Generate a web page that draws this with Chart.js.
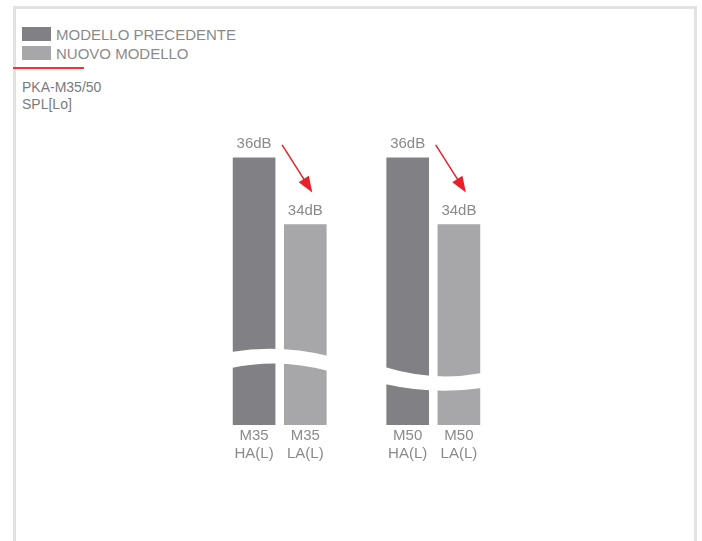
<!DOCTYPE html>
<html>
<head>
<meta charset="utf-8">
<script src="https://cdn.jsdelivr.net/npm/chart.js@4"></script>
<style>
  body { margin: 0; width: 702px; height: 541px; overflow: hidden; background: #fff;
         font-family: "Liberation Sans", Arial, sans-serif; }
  .frame { position: absolute; left: 13px; top: 6px; width: 678px; height: 600px;
           border: 3px solid #e2e2e2; border-bottom: none; }
  .legend { position: absolute; left: 22px; top: 25px; }
  .legend div { height: 19px; line-height: 19px; font-size: 15px; color: #8a8a8d; white-space: nowrap; }
  .legend span { display: inline-block; width: 29px; height: 14px; margin-right: 5px; vertical-align: -1px; }
  .redline { position: absolute; left: 13px; top: 67px; width: 71px; height: 2px; background: #ff3030; }
  .model { position: absolute; left: 22px; top: 79px; font-size: 14px; line-height: 17px; color: #7a7a7d; }
  canvas { position: absolute; left: 0; top: 0; }
</style>
</head>
<body>
<div class="frame"></div>
<div class="legend" id="legend"></div>
<div class="redline"></div>
<div class="model">PKA-M35/50<br>SPL[Lo]</div>
<canvas id="chart" width="702" height="541"></canvas>
<script>
// dati
const categories = [['M35', 'HA(L)'], ['M35', 'LA(L)'], '', ['M50', 'HA(L)'], ['M50', 'LA(L)']];
const seriesNames = ['MODELLO PRECEDENTE', 'NUOVO MODELLO'];
const previousModel = [36, null, null, 36, null];
const newModel = [null, 34, null, null, 34];
const unit = 'dB';

const darkGray = '#818185';
const lightGray = '#a7a7aa';
const textGray = '#8a8a8d';
const red = '#e8202a';

// legenda html
const legendEl = document.getElementById('legend');
[darkGray, lightGray].forEach((c, i) => {
  const row = document.createElement('div');
  row.innerHTML = '<span style="background:' + c + '"></span>' + seriesNames[i];
  legendEl.appendChild(row);
});

// etichette dB sopra le barre + frecce rosse
const labelsPlugin = {
  id: 'dbLabels',
  afterDatasetsDraw(chart) {
    const ctx = chart.ctx;
    ctx.save();
    ctx.font = '15px "Liberation Sans", Arial, sans-serif';
    ctx.fillStyle = textGray;
    ctx.textAlign = 'center';
    ctx.textBaseline = 'middle';
    chart.data.datasets.forEach((ds, di) => {
      chart.getDatasetMeta(di).data.forEach((bar, i) => {
        if (ds.data[i] == null) return;
        ctx.fillText(ds.data[i] + unit, bar.x, bar.y - 13.5);
      });
    });
    // frecce da HA a LA
    const prev = chart.getDatasetMeta(0).data;
    const next = chart.getDatasetMeta(1).data;
    [[0, 1], [3, 4]].forEach(([a, b]) => {
      const from = prev[a], to = next[b];
      const x0 = from.x + from.width / 2 + 7, y0 = from.y - 13;
      const x1 = to.x + 7, y1 = to.y - 32;
      const ang = Math.atan2(y1 - y0, x1 - x0);
      ctx.strokeStyle = red;
      ctx.fillStyle = red;
      ctx.lineWidth = 1.5;
      ctx.beginPath();
      ctx.moveTo(x0, y0);
      ctx.lineTo(x1 - 12 * Math.cos(ang), y1 - 12 * Math.sin(ang));
      ctx.stroke();
      ctx.beginPath();
      ctx.moveTo(x1, y1);
      ctx.lineTo(x1 - 16 * Math.cos(ang) + 6 * Math.sin(ang), y1 - 16 * Math.sin(ang) - 6 * Math.cos(ang));
      ctx.lineTo(x1 - 16 * Math.cos(ang) - 6 * Math.sin(ang), y1 - 16 * Math.sin(ang) + 6 * Math.cos(ang));
      ctx.closePath();
      ctx.fill();
    });
    ctx.restore();
  }
};

// interruzione dell'asse (bande bianche curve)
const breakPlugin = {
  id: 'axisBreak',
  afterDatasetsDraw(chart) {
    const ctx = chart.ctx;
    const b = chart.chartArea.bottom;
    const prev = chart.getDatasetMeta(0).data;
    const next = chart.getDatasetMeta(1).data;
    const groups = [
      { l: prev[0], r: next[1], top: [-73, -81, -69], bot: [-57, -67.5, -54] },
      { l: prev[3], r: next[4], top: [-58, -43, -52], bot: [-41, -30, -37] }
    ];
    ctx.save();
    ctx.fillStyle = '#fff';
    groups.forEach(g => {
      const x0 = g.l.x - g.l.width / 2 - 2, x1 = g.r.x + g.r.width / 2 + 2;
      const xm = (x0 + x1) / 2;
      ctx.beginPath();
      ctx.moveTo(x0, b + g.top[0]);
      ctx.quadraticCurveTo(xm, b + g.top[1], x1, b + g.top[2]);
      ctx.lineTo(x1, b + g.bot[2]);
      ctx.quadraticCurveTo(xm, b + g.bot[1], x0, b + g.bot[0]);
      ctx.closePath();
      ctx.fill();
    });
    ctx.restore();
  }
};

const chart = new Chart(document.getElementById('chart').getContext('2d'), {
  type: 'bar',
  data: {
    labels: categories,
    datasets: [
      { label: seriesNames[0], data: previousModel, backgroundColor: darkGray },
      { label: seriesNames[1], data: newModel, backgroundColor: lightGray }
    ]
  },
  options: {
    responsive: false,
    animation: false,
    grouped: false,
    barThickness: 42,
    layout: { padding: { left: 228.5, right: 217.5, top: 124.4, bottom: 0 } },
    plugins: { legend: { display: false }, tooltip: { enabled: false } },
    scales: {
      x: {
        grid: { display: false, drawTicks: false },
        border: { display: false },
        ticks: {
          color: textGray,
          padding: 2,
          maxRotation: 0,
          autoSkip: false,
          font: { family: '"Liberation Sans", Arial, sans-serif', size: 15, lineHeight: 1.2 }
        },
        afterFit(scale) { scale.height = 116; }
      },
      y: { display: false, min: 28, max: 37 }
    }
  },
  plugins: [breakPlugin, labelsPlugin]
});
</script>
</body>
</html>
